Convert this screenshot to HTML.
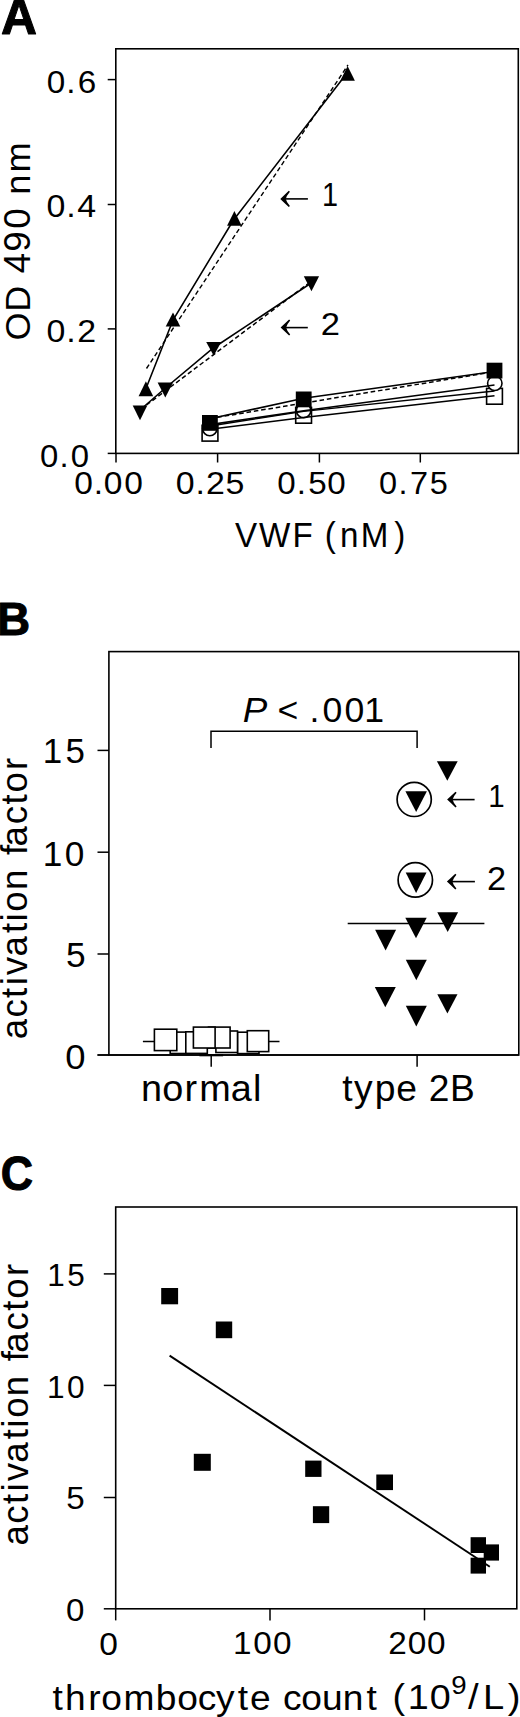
<!DOCTYPE html>
<html><head><meta charset="utf-8"><style>
html,body{margin:0;padding:0;background:#fff;}
svg{display:block;}
text{font-family:"Liberation Sans",sans-serif;fill:#000;}
</style></head><body>
<svg width="520" height="1717" viewBox="0 0 520 1717">
<rect width="520" height="1717" fill="#fff"/>
<rect x="115.8" y="48.8" width="402.5" height="404.6" fill="none" stroke="#000" stroke-width="1.6"/>
<line x1="107.7" y1="79.6" x2="115.8" y2="79.6" stroke="#000" stroke-width="1.5"/>
<line x1="107.7" y1="204.5" x2="115.8" y2="204.5" stroke="#000" stroke-width="1.5"/>
<line x1="107.7" y1="328.9" x2="115.8" y2="328.9" stroke="#000" stroke-width="1.5"/>
<line x1="107.7" y1="453.4" x2="115.8" y2="453.4" stroke="#000" stroke-width="1.5"/>
<line x1="116.0" y1="453.4" x2="116.0" y2="462.5" stroke="#000" stroke-width="1.5"/>
<line x1="217.6" y1="453.4" x2="217.6" y2="462.5" stroke="#000" stroke-width="1.5"/>
<line x1="319.4" y1="453.4" x2="319.4" y2="462.5" stroke="#000" stroke-width="1.5"/>
<line x1="420.3" y1="453.4" x2="420.3" y2="462.5" stroke="#000" stroke-width="1.5"/>
<line x1="285.3" y1="198.9" x2="307.9" y2="198.9" stroke="#000" stroke-width="1.6"/>
<path d="M280.3,198.9 Q283.78,195.57 288.79,190.68 L289.91,191.72 Q286.44,195.78 285.82,198.90 Q286.44,202.02 289.91,206.08 L288.79,207.12 Q283.78,202.23 280.3,198.9 Z" fill="#000"/>
<line x1="285.6" y1="327.6" x2="307.8" y2="327.6" stroke="#000" stroke-width="1.6"/>
<path d="M280.6,327.6 Q284.08,324.36 289.09,319.59 L290.21,320.61 Q286.74,324.56 286.12,327.60 Q286.74,330.64 290.21,334.59 L289.09,335.61 Q284.08,330.84 280.6,327.6 Z" fill="#000"/>
<polyline points="145.6,389.5 173,320 233.2,220.5 346.3,74" fill="none" stroke="#000" stroke-width="1.6"/>
<line x1="146.5" y1="368.5" x2="348" y2="65" stroke="#000" stroke-width="1.4" stroke-dasharray="4.6,2.8"/>
<polyline points="140,410 165.4,388 213.3,348 311.2,283" fill="none" stroke="#000" stroke-width="1.6"/>
<line x1="146.5" y1="405" x2="309" y2="283" stroke="#000" stroke-width="1.5" stroke-dasharray="4.6,2.8"/>
<rect x="202.1" y="425.3" width="15.80" height="15.80" fill="#fff" stroke="#000" stroke-width="1.6"/>
<rect x="295.70000000000005" y="407.40000000000003" width="15.80" height="15.80" fill="#fff" stroke="#000" stroke-width="1.6"/>
<rect x="486.6" y="388.40000000000003" width="15.80" height="15.80" fill="#fff" stroke="#000" stroke-width="1.6"/>
<circle cx="209.8" cy="428.5" r="7.2" fill="#fff" stroke="#000" stroke-width="1.6"/>
<circle cx="303.6" cy="410.5" r="7.2" fill="#fff" stroke="#000" stroke-width="1.6"/>
<circle cx="494.8" cy="383.3" r="7.2" fill="#fff" stroke="#000" stroke-width="1.6"/>
<polyline points="210,429.3 303.7,417.5 494.5,395.8" fill="none" stroke="#000" stroke-width="1.6"/>
<polyline points="210,426 303.7,411.4 494.5,391" fill="none" stroke="#000" stroke-width="1.4"/>
<polyline points="210,424.6 303.7,410.7 494.5,385" fill="none" stroke="#000" stroke-width="1.6"/>
<polyline points="210,418.7 303.7,398.3 494.5,371.5" fill="none" stroke="#000" stroke-width="1.6"/>
<line x1="210" y1="418.5" x2="494.5" y2="371.7" stroke="#000" stroke-width="1.5" stroke-dasharray="4.6,2.8"/>
<rect x="202.0" y="415.0" width="15.80" height="15.80" fill="#000"/>
<rect x="295.8" y="391.5" width="15.80" height="15.80" fill="#000"/>
<rect x="486.6" y="362.70000000000005" width="15.80" height="15.80" fill="#000"/>
<polygon points="145.90,381.30 138.60,396.20 153.20,396.20" fill="#000"/>
<polygon points="173.00,312.60 165.70,326.50 180.30,326.50" fill="#000"/>
<polygon points="234.40,211.10 227.10,225.80 241.70,225.80" fill="#000"/>
<polygon points="347.60,66.00 340.30,80.80 354.90,80.80" fill="#000"/>
<polygon points="132.70,405.40 147.30,405.40 140.00,420.20" fill="#000"/>
<polygon points="157.60,382.50 173.00,382.50 165.30,397.40" fill="#000"/>
<polygon points="206.20,341.90 221.20,341.90 213.70,355.80" fill="#000"/>
<polygon points="303.80,276.20 319.10,276.20 311.45,291.20" fill="#000"/>
<rect x="108.9" y="651.6" width="409.9" height="403.4" fill="none" stroke="#000" stroke-width="1.6"/>
<line x1="97.5" y1="750.4" x2="108.9" y2="750.4" stroke="#000" stroke-width="1.5"/>
<line x1="97.5" y1="852.2" x2="108.9" y2="852.2" stroke="#000" stroke-width="1.5"/>
<line x1="97.5" y1="954.0" x2="108.9" y2="954.0" stroke="#000" stroke-width="1.5"/>
<line x1="97.5" y1="1055.0" x2="108.9" y2="1055.0" stroke="#000" stroke-width="1.5"/>
<line x1="211.2" y1="1055" x2="211.2" y2="1066.8" stroke="#000" stroke-width="1.5"/>
<line x1="417.1" y1="1055" x2="417.1" y2="1066.8" stroke="#000" stroke-width="1.5"/>
<polyline points="211,748 211,731.3 417.1,731.3 417.1,748" fill="none" stroke="#000" stroke-width="1.5"/>
<line x1="347.7" y1="923.4" x2="484.4" y2="923.4" stroke="#000" stroke-width="1.5"/>
<line x1="142.9" y1="1041.6" x2="279.5" y2="1041.6" stroke="#000" stroke-width="1.5"/>
<rect x="237.5" y="1032.2" width="21.50" height="21.40" fill="#fff" stroke="#000" stroke-width="1.6"/>
<rect x="215.9" y="1031.0" width="21.60" height="21.50" fill="#fff" stroke="#000" stroke-width="1.6"/>
<rect x="170.2" y="1032.1" width="21.50" height="21.40" fill="#fff" stroke="#000" stroke-width="1.6"/>
<rect x="185.8" y="1031.8" width="21.50" height="21.60" fill="#fff" stroke="#000" stroke-width="1.6"/>
<rect x="208.5" y="1027.1" width="21.60" height="20.90" fill="#fff" stroke="#000" stroke-width="1.6"/>
<rect x="193.4" y="1027.1" width="21.70" height="20.90" fill="#fff" stroke="#000" stroke-width="1.6"/>
<rect x="154.4" y="1029.2" width="22.40" height="21.40" fill="#fff" stroke="#000" stroke-width="1.6"/>
<rect x="247.3" y="1030.7" width="21.40" height="20.90" fill="#fff" stroke="#000" stroke-width="1.6"/>
<rect x="199.4" y="1054" width="23.70" height="2.30" fill="#000"/>
<line x1="97.5" y1="1055" x2="518.9" y2="1055" stroke="#000" stroke-width="1.6"/>
<polygon points="436.90,761.20 457.70,761.20 447.30,780.80" fill="#000"/>
<polygon points="405.40,791.20 426.90,791.20 416.15,811.90" fill="#000"/>
<polygon points="405.70,872.50 426.50,872.50 416.10,893.10" fill="#000"/>
<polygon points="375.10,929.70 396.10,929.70 385.60,950.50" fill="#000"/>
<polygon points="405.30,917.80 426.70,917.80 416.00,938.30" fill="#000"/>
<polygon points="437.30,912.30 458.10,912.30 447.70,932.10" fill="#000"/>
<polygon points="405.80,959.80 426.80,959.80 416.30,980.20" fill="#000"/>
<polygon points="374.80,987.00 395.80,987.00 385.30,1007.20" fill="#000"/>
<polygon points="437.30,994.20 457.50,994.20 447.40,1013.60" fill="#000"/>
<polygon points="405.80,1005.80 426.80,1005.80 416.30,1026.50" fill="#000"/>
<circle cx="414.2" cy="799.4" r="17.1" fill="none" stroke="#000" stroke-width="1.7"/>
<circle cx="415.3" cy="879.9" r="17.2" fill="none" stroke="#000" stroke-width="1.7"/>
<line x1="452.1" y1="799.6" x2="474.6" y2="799.6" stroke="#000" stroke-width="1.6"/>
<path d="M447.1,799.6 Q450.54,796.44 455.49,791.81 L456.61,792.79 Q453.17,796.64 452.56,799.60 Q453.17,802.56 456.61,806.41 L455.49,807.39 Q450.54,802.76 447.1,799.6 Z" fill="#000"/>
<line x1="451.9" y1="881.6" x2="474.9" y2="881.6" stroke="#000" stroke-width="1.6"/>
<path d="M446.9,881.6 Q450.34,878.40 455.29,873.70 L456.41,874.70 Q452.97,878.60 452.36,881.60 Q452.97,884.60 456.41,888.50 L455.29,889.50 Q450.34,884.80 446.9,881.6 Z" fill="#000"/>
<rect x="115.7" y="1207.0" width="401.1" height="401.8" fill="none" stroke="#000" stroke-width="1.6"/>
<line x1="103.8" y1="1273.9" x2="115.7" y2="1273.9" stroke="#000" stroke-width="1.5"/>
<line x1="103.8" y1="1385.4" x2="115.7" y2="1385.4" stroke="#000" stroke-width="1.5"/>
<line x1="103.8" y1="1497.5" x2="115.7" y2="1497.5" stroke="#000" stroke-width="1.5"/>
<line x1="103.8" y1="1608.8" x2="115.7" y2="1608.8" stroke="#000" stroke-width="1.5"/>
<line x1="115.7" y1="1608.8" x2="115.7" y2="1620.4" stroke="#000" stroke-width="1.5"/>
<line x1="270.0" y1="1608.8" x2="270.0" y2="1620.4" stroke="#000" stroke-width="1.5"/>
<line x1="424.5" y1="1608.8" x2="424.5" y2="1620.4" stroke="#000" stroke-width="1.5"/>
<line x1="169.6" y1="1355.6" x2="489.8" y2="1566.7" stroke="#000" stroke-width="1.9"/>
<rect x="161.2" y="1288" width="16.90" height="16.30" fill="#000"/>
<rect x="215.8" y="1321.5" width="16.40" height="16.70" fill="#000"/>
<rect x="193.8" y="1453.8" width="17.00" height="17.00" fill="#000"/>
<rect x="305.2" y="1460.6" width="16.30" height="16.30" fill="#000"/>
<rect x="312.9" y="1506.2" width="16.30" height="16.90" fill="#000"/>
<rect x="376.3" y="1474.5" width="16.70" height="15.60" fill="#000"/>
<rect x="470.6" y="1537.2" width="15.40" height="15.80" fill="#000"/>
<rect x="470.6" y="1557.7" width="15.40" height="15.90" fill="#000"/>
<rect x="483.7" y="1544.4" width="15.30" height="16.20" fill="#000"/>
<text transform="matrix(0.49848,0,0,0.49706,0.905,34.197)" font-size="100" font-weight="bold" stroke="#000" stroke-width="1.0" vector-effect="non-scaling-stroke" stroke-linejoin="round">A</text>
<text transform="matrix(0.28837,0,0,0.32609,321.893,206.300)" font-size="100">1</text>
<text transform="matrix(0.34565,0,0,0.31286,320.672,334.500)" font-size="100">2</text>
<text transform="matrix(0.45902,0,0,0.47101,-2.913,634.900)" font-size="100" font-weight="bold" stroke="#000" stroke-width="1.0" vector-effect="non-scaling-stroke" stroke-linejoin="round">B</text>
<text transform="matrix(0.35319,0,0,0.35571,66.087,966.944)" font-size="100">5</text>
<text transform="matrix(0.36458,0,0,0.35775,65.142,1068.742)" font-size="100">0</text>
<text transform="matrix(0.29535,0,0,0.31449,488.137,806.700)" font-size="100">1</text>
<text transform="matrix(0.34348,0,0,0.33429,487.083,889.700)" font-size="100">2</text>
<text transform="matrix(0.44769,0,0,0.48732,0.809,1189.713)" font-size="100" font-weight="bold" stroke="#000" stroke-width="1.0" vector-effect="non-scaling-stroke" stroke-linejoin="round">C</text>
<text transform="matrix(0.33191,0,0,0.32143,66.172,1509.479)" font-size="100">5</text>
<text transform="matrix(0.33125,0,0,0.31690,66.075,1620.883)" font-size="100">0</text>
<text transform="matrix(0.33542,0,0,0.31690,99.158,1654.583)" font-size="100">0</text>
<text transform="matrix(0.33261,0,0,0.31549,0.000,0.000)"><tspan x="140.37 199.31 233.42" y="293.46" font-size="100.00">0.6</tspan></text>
<text transform="matrix(0.33922,0,0,0.31127,0.000,0.000)"><tspan x="137.09 195.16 227.65" y="695.83" font-size="100.00">0.4</tspan></text>
<text transform="matrix(0.33913,0,0,0.31831,0.000,0.000)"><tspan x="137.13 195.21 227.95" y="1073.11" font-size="100.00">0.2</tspan></text>
<text transform="matrix(0.32917,0,0,0.31690,0.000,0.000)"><tspan x="121.16 180.58 215.34" y="1472.33" font-size="100.00">0.0</tspan></text>
<text transform="matrix(0.33542,0,0,0.31690,0.000,0.000)"><tspan x="221.24 279.66 309.04 370.16" y="1560.37" font-size="100.00">0.00</tspan></text>
<text transform="matrix(0.33913,0,0,0.31690,0.000,0.000)"><tspan x="517.96 576.48 607.15 665.30" y="1560.37" font-size="100.00">0.25</tspan></text>
<text transform="matrix(0.33191,0,0,0.31690,0.000,0.000)"><tspan x="835.02 894.21 928.77 986.12" y="1560.37" font-size="100.00">0.50</tspan></text>
<text transform="matrix(0.32500,0,0,0.31690,0.000,0.000)"><tspan x="1166.15 1226.15 1261.38 1322.04" y="1560.37" font-size="100.00">0.75</tspan></text>
<text transform="matrix(0.33181,0,0,0.34928,0.000,0.000)"><tspan x="708.64 780.83 881.72 941.72 978.86 1024.56 1087.00 1188.49" y="1565.81" font-size="100.00">VWF (nM)</tspan></text>
<text transform="matrix(0,-0.36046,0.35652,0,0.000,0.000)"><tspan x="-944.38 -864.64 -794.64" y="84.15" font-size="100.00">OD </tspan><tspan x="-758.35 -698.66 -634.57 -578.52" y="85.37" font-size="101.92">490 </tspan><tspan x="-540.34 -478.30" y="84.71" font-size="100.77">nm</tspan></text>
<text transform="matrix(0.34894,0,0,0.34648,0.000,0.000)"><tspan x="122.39 187.73" y="2202.60" font-size="100.00">15</tspan></text>
<text transform="matrix(0.35208,0,0,0.35775,0.000,0.000)"><tspan x="121.32 184.02" y="2419.71" font-size="100.00">10</tspan></text>
<text transform="matrix(0,-0.36667,0.36000,0,0.000,0.000)"><tspan x="-2834.32 -2775.14 -2721.59 -2687.27 -2659.55 -2608.91 -2544.86 -2513.27 -2486.27 -2427.45 -2375.45 -2332.00 -2308.50 -2248.23 -2194.41 -2161.18 -2099.73" y="75.39" font-size="100.00">activation factor</tspan></text>
<text transform="matrix(0.36807,0,0,0.35652,0.000,0.000)"><tspan x="659.66 728.66" y="2025.12" font-size="100.00" font-style="italic">P </tspan><tspan x="753.90 809.07 841.17 875.98 935.89 989.86" y="2024.72" font-size="96.79">&lt; .001</tspan></text>
<text transform="matrix(0.37857,0,0,0.36481,0.000,0.000)"><tspan x="372.32 428.56 487.14 526.32 609.51 668.29" y="3018.52" font-size="100.00">normal</tspan></text>
<text transform="matrix(0.37273,0,0,0.36481,0.000,0.000)"><tspan x="918.09 949.98 1005.54 1063.24 1117.24" y="3018.52" font-size="100.00">type </tspan><tspan x="1150.15 1207.39" y="3018.24" font-size="99.71">2B</tspan></text>
<text transform="matrix(0.31489,0,0,0.31127,0.000,0.000)"><tspan x="150.24 213.22" y="4132.42" font-size="100.00">15</tspan></text>
<text transform="matrix(0.31667,0,0,0.31831,0.000,0.000)"><tspan x="148.45 212.00" y="4391.58" font-size="100.00">10</tspan></text>
<text transform="matrix(0.33333,0,0,0.31268,0.000,0.000)"><tspan x="699.35 759.80 818.90" y="5290.42" font-size="100.00">100</tspan></text>
<text transform="matrix(0.33333,0,0,0.31268,0.000,0.000)"><tspan x="1164.65 1223.60 1280.90" y="5290.42" font-size="100.00">200</tspan></text>
<text transform="matrix(0,-0.36667,0.36182,0,0.000,0.000)"><tspan x="-4214.86 -4155.68 -4102.14 -4067.82 -4040.09 -3989.45 -3925.41 -3893.82 -3866.82 -3808.00 -3756.00 -3712.55 -3689.05 -3628.77 -3574.95 -3541.73 -3480.27" y="77.22" font-size="100.00">activation factor</tspan></text>
<text transform="matrix(0.37143,0,0,0.34815,0.000,0.000)"><tspan x="141.52 175.27 237.35 272.83 332.37 419.13 477.44 532.35 581.58 640.13 673.17 727.17 761.60 810.75 866.92 922.92 986.90 1016.90" y="4910.55" font-size="100.00">thrombocyte count </tspan><tspan x="1056.55 1097.72 1156.72" y="4909.25" font-size="101.54">(10</tspan><tspan x="1215.06" y="4864.43" font-size="74.44">9</tspan><tspan x="1260.28 1300.23 1367.03" y="4907.39" font-size="102.82">/L)</tspan></text>
</svg>
</body></html>
